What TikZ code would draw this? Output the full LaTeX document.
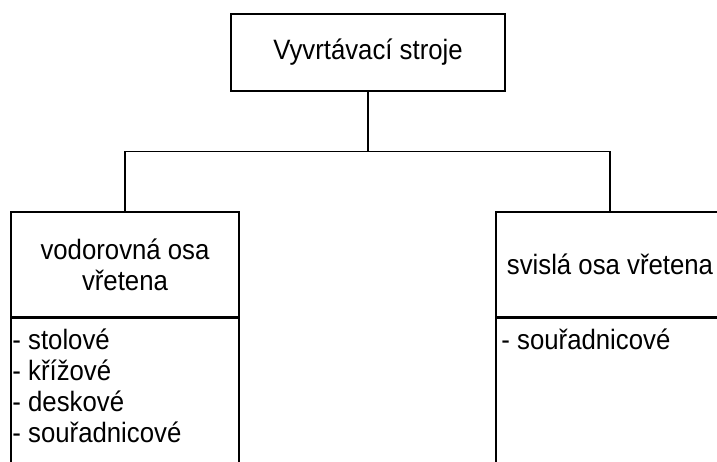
\documentclass[tikz,border=0pt]{standalone}
\usepackage{fontspec}
\setmainfont{Liberation Sans}[FakeStretch=0.92]
\begin{document}
\begin{tikzpicture}[x=1pt,y=-1pt,
  every node/.style={font=\fontsize{28}{31}\selectfont, text=black},
  box/.style={draw=black, line width=1.5pt, rectangle, inner sep=0pt, align=center},
  link/.style={draw=black, line width=1.5pt},
  item/.style={anchor=base west, inner sep=0pt}]
  \clip (0,0) rectangle (717,461);
  \fill[white] (0,0) rectangle (717,461);

  % root
  \node[box, minimum width=274pt, minimum height=77pt] (root) at (368,52.5) {Vyvrtávací stroje};

  % left branch: header and list compartment
  \node[box, minimum width=228pt, minimum height=105pt] (lhead) at (125,264.5) {vodorovná osa\\vřetena};
  \node[box, minimum width=228pt, minimum height=170pt, anchor=north] (lbody) at (lhead.south) {};

  % right branch: header and list compartment
  \node[box, minimum width=228pt, minimum height=105pt] (rhead) at (610,264.5) {svislá osa vřetena};
  \node[box, minimum width=228pt, minimum height=170pt, anchor=north] (rbody) at (rhead.south) {};

  % list entries
  \foreach \t [count=\i from 0] in {- stolové, - křížové, - deskové, - souřadnicové}
    \node[item] at ([xshift=2pt, yshift=-32pt-31pt*\i]lbody.north west) {\t};
  \node[item] (ritem) at ([xshift=6pt, yshift=-32pt]rbody.north west) {- souřadnicové};

  % tree connectors
  \coordinate (fork) at (368,151.5);
  \draw[link] (root.south) -- (fork);
  \draw[link] (lhead.north) |- (fork) -| (rhead.north);
\end{tikzpicture}
\end{document}
